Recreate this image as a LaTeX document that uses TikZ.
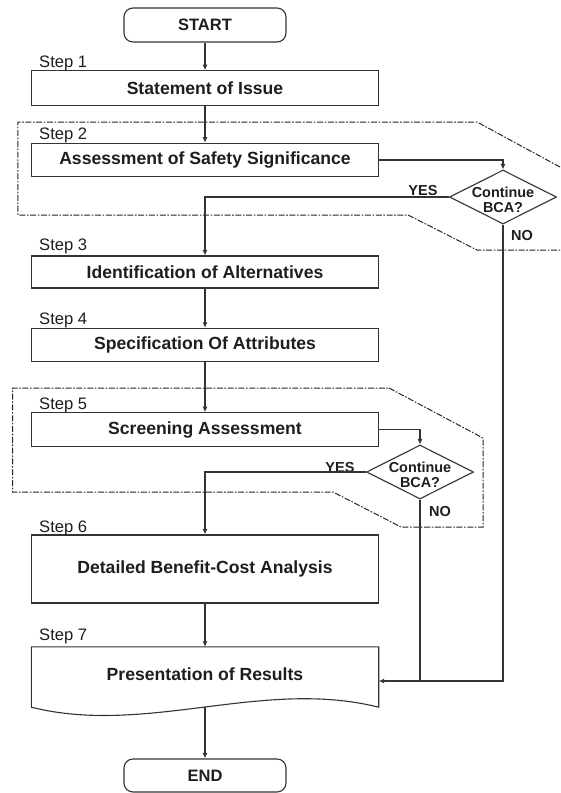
\documentclass[tikz,border=0pt]{standalone}
\usepackage{fontspec}
\setmainfont{Liberation Sans}
\usetikzlibrary{arrows.meta,shapes.geometric,calc}
\definecolor{ln}{HTML}{333333}
\definecolor{tx}{HTML}{1E1E1E}
\tikzset{
  boxtext/.style={font=\fontsize{17.6}{20}\selectfont\bfseries, text=tx},
  stepbox/.style={draw=ln, line width=1.1pt, rectangle, minimum width=347pt, inner sep=0pt, boxtext},
  termbox/.style={draw=ln, line width=1.1pt, rectangle, rounded corners=9pt, minimum width=162pt, minimum height=34pt, inner sep=0pt, font=\fontsize{16.5}{19}\selectfont\bfseries, text=tx},
  decision/.style={draw=ln, line width=1.1pt, diamond, minimum width=107pt, minimum height=54pt, inner sep=0pt},
  dtext/.style={font=\fontsize{14.4}{15}\selectfont\bfseries, text=tx, align=center, inner sep=0pt},
  steplabel/.style={font=\fontsize{16.6}{19}\selectfont, text=tx, anchor=base west, inner sep=0pt},
  yn/.style={font=\fontsize{14.5}{16}\selectfont\bfseries, text=tx, inner sep=0pt},
  arr/.style={draw=ln, line width=1.1pt, -{Latex[length=5.5pt,width=5pt]}},
  conn/.style={draw=ln, line width=1.1pt},
  region/.style={draw=black!85, line width=1pt, dash pattern=on 6pt off 1.6pt on 1.6pt off 1.6pt}
}
\begin{document}
\begin{tikzpicture}[x=1pt,y=-1pt]
\fill[white] (0,0) rectangle (560,793);
\useasboundingbox (0,0) rectangle (560,793);

% dashed regions
\draw[region] (560,167) -- (477,122) -- (17.9,122) -- (17.9,215) -- (408,215) -- (477,250) -- (560,250);
\draw[region] (389,388) -- (483,438) -- (483,527) -- (401,527) -- (333,492) -- (12.5,492) -- (12.5,388) -- cycle;

% nodes
\node[termbox] (start) at (205,25) {START};
\node[stepbox, minimum height=34.5pt] (b1) at (205,88) {Statement of Issue};
\node[stepbox, minimum height=33.5pt] (b2) at (205,160) {Assessment of Safety Significance};
\node[stepbox, minimum height=32pt] (b3) at (205,272) {Identification of Alternatives};
\node[stepbox, minimum height=32.7pt] (b4) at (205,344.7) {Specification Of Attributes};
\node[stepbox, minimum height=33.5pt] (b5) at (205,429.5) {Screening Assessment};
\node[stepbox, minimum height=68pt] (b6) at (205,569) {Detailed Benefit-Cost Analysis};
\node[rectangle, minimum width=347pt, minimum height=60pt, inner sep=0pt] (s7) at (205,677) {};
\draw[draw=ln, line width=1.1pt] (s7.south west) -- (s7.north west) -- (s7.north east) -- (s7.south east)
  .. controls (262.3,678) and (146.7,736) .. (s7.south west);
\node[boxtext] (s7t) at ([yshift=3pt]s7.center) {Presentation of Results};
\node[termbox, minimum height=33pt] (end) at (205,775.5) {END};

\node[decision] (d1) at (503,197) {};
\node[dtext] (d1t) at (503,199.5) {Continue\\BCA?};
\node[decision] (d2) at (420,472) {};
\node[dtext] (d2t) at (420,474.5) {Continue\\BCA?};

% step labels
\node[steplabel] (l1) at (39,67) {Step 1};
\node[steplabel] (l2) at (39,139.5) {Step 2};
\node[steplabel] (l3) at (39,250) {Step 3};
\node[steplabel] (l4) at (39,324.3) {Step 4};
\node[steplabel] (l5) at (39,409) {Step 5};
\node[steplabel] (l6) at (39,532) {Step 6};
\node[steplabel] (l7) at (39,640) {Step 7};

% yes/no labels
\node[yn] (y1) at (423,191) {YES};
\node[yn] (n1) at (522,236) {NO};
\node[yn] (y2) at (340,468) {YES};
\node[yn] (n2) at (440,512) {NO};

% connectors
\draw[arr] (start.south) -- (b1.north);
\draw[arr] (b1.south) -- (b2.north);
\draw[arr] (b2.east) -| (d1.north);
\draw[arr] (d1.west) -| (b3.north);
\draw[arr] (b3.south) -- (b4.north);
\draw[arr] (b4.south) -- (b5.north);
\draw[arr] (b5.east) -| (d2.north);
\draw[arr] (d2.west) -| (b6.north);
\draw[arr] (b6.south) -- (s7.north);
\draw[arr] (s7.south) -- (end.north);
\coordinate (s7in) at ([yshift=-4pt]s7.east);
\draw[arr] (d1.south) |- (s7in);
\draw[conn] (d2.south) -- (d2.south |- s7in);
\end{tikzpicture}
\end{document}
